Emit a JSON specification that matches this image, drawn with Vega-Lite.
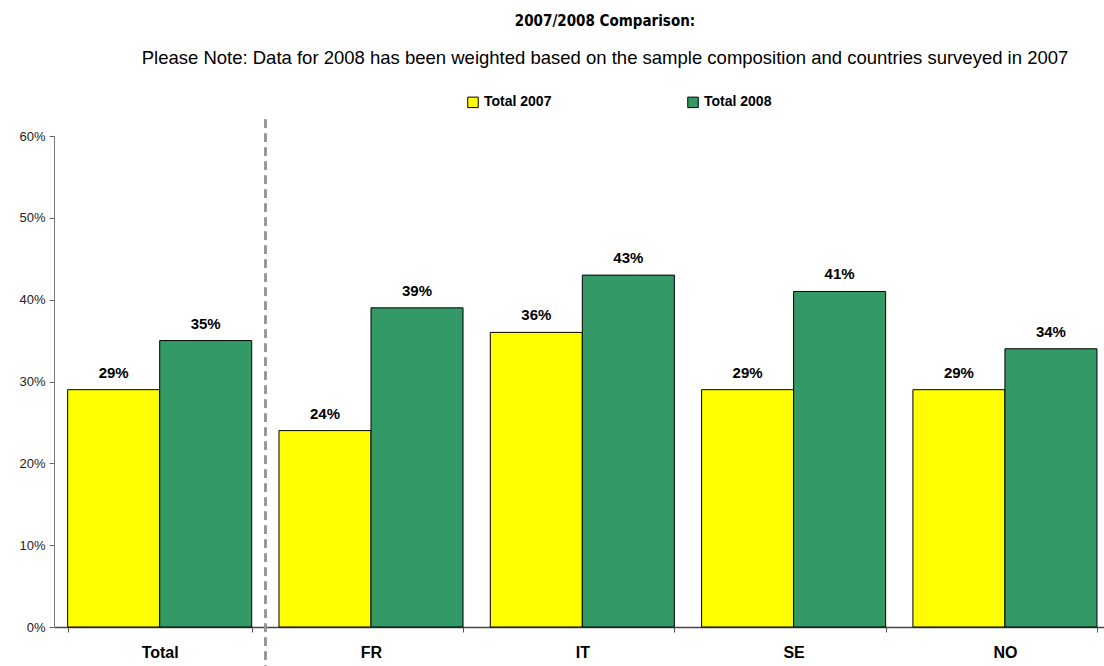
{
  "$schema": "https://vega.github.io/schema/vega-lite/v6.json",
  "width": 1050,
  "height": 491,
  "autosize": {"type": "none"},
  "padding": {"left": 54, "top": 136, "right": 0, "bottom": 39},
  "background": "white",
  "config": {"view": {"stroke": null}, "font": "Liberation Sans"},
  "title": {
    "text": "2007/2008 Comparison:",
    "subtitle": "Please Note: Data for 2008 has been weighted based on the sample composition and countries surveyed in 2007",
    "anchor": "middle",
    "frame": "group",
    "offset": 28,
    "dx": 26,
    "font": "DejaVu Sans Condensed, Liberation Sans",
    "fontSize": 15,
    "fontWeight": "bold",
    "color": "black",
    "subtitleFont": "Liberation Sans",
    "subtitleFontSize": 18.5,
    "subtitleColor": "black",
    "subtitlePadding": 20
  },
  "data": {
    "values": [
      {"country": "Total", "series": "Total 2007", "value": 0.29},
      {"country": "Total", "series": "Total 2008", "value": 0.35},
      {"country": "FR", "series": "Total 2007", "value": 0.24},
      {"country": "FR", "series": "Total 2008", "value": 0.39},
      {"country": "IT", "series": "Total 2007", "value": 0.36},
      {"country": "IT", "series": "Total 2008", "value": 0.43},
      {"country": "SE", "series": "Total 2007", "value": 0.29},
      {"country": "SE", "series": "Total 2008", "value": 0.41},
      {"country": "NO", "series": "Total 2007", "value": 0.29},
      {"country": "NO", "series": "Total 2008", "value": 0.34}
    ]
  },
  "layer": [
    {
      "mark": {"type": "bar", "stroke": "black", "strokeWidth": 1},
      "encoding": {
        "x": {
          "field": "country", "type": "nominal",
          "scale": {"domain": ["Total", "FR", "IT", "SE", "NO"], "paddingInner": 0.129, "paddingOuter": 0.049, "align": 0.66},
          "axis": {
            "title": null, "labelAngle": 0, "labelFontSize": 16, "labelFontWeight": "bold", "labelColor": "black",
            "labelPadding": 12, "tickBand": "extent", "tickSize": 5, "tickColor": "#555", "domainColor": "#444", "domainWidth": 1.5
          }
        },
        "xOffset": {"field": "series", "type": "nominal", "scale": {"paddingInner": 0, "paddingOuter": 0}},
        "y": {
          "field": "value", "type": "quantitative",
          "scale": {"domain": [0, 0.6]},
          "axis": {
            "title": null, "values": [0, 0.1, 0.2, 0.3, 0.4, 0.5, 0.6], "format": ".0%", "grid": false,
            "labelFontSize": 13, "labelColor": "#222", "tickSize": 5, "tickColor": "#666", "domainColor": "#777", "labelPadding": 4
          }
        },
        "color": {
          "field": "series", "type": "nominal",
          "scale": {"domain": ["Total 2007", "Total 2008"], "range": ["#FFFF00", "#339966"]},
          "legend": {
            "title": null, "orient": "none", "legendX": 412, "legendY": -41, "direction": "horizontal",
            "symbolType": "square", "symbolSize": 110, "symbolStrokeColor": "black", "symbolStrokeWidth": 1,
            "labelFontSize": 14, "labelFontWeight": "bold", "labelColor": "black", "labelOffset": 4, "columnPadding": 133
          }
        }
      }
    },
    {
      "mark": {"type": "text", "fontSize": 15, "fontWeight": "bold", "baseline": "alphabetic", "dy": -12, "color": "black"},
      "encoding": {
        "x": {"field": "country", "type": "nominal"},
        "xOffset": {"field": "series", "type": "nominal"},
        "y": {"field": "value", "type": "quantitative"},
        "text": {"field": "value", "type": "quantitative", "format": ".0%"}
      }
    },
    {
      "mark": {"type": "rule", "color": "#999", "strokeWidth": 2, "strokeDash": [8, 6]},
      "encoding": {
        "x": {"datum": "Total", "bandPosition": 1.074},
        "y": {"datum": 0.62},
        "y2": {"datum": -0.05}
      }
    }
  ]
}
